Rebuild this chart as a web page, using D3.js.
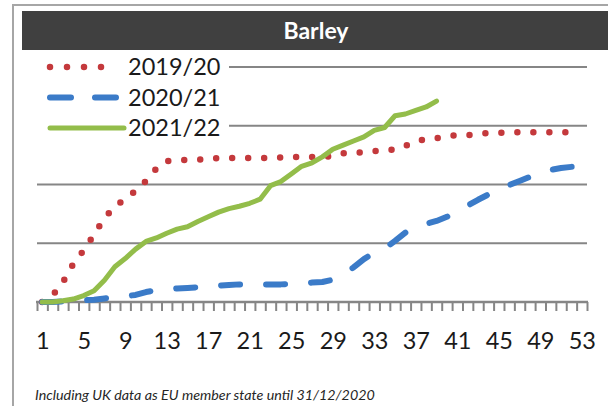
<!DOCTYPE html>
<html>
<head>
<meta charset="utf-8">
<script src="https://cdn.jsdelivr.net/npm/d3@7"></script>
<style>
    body { margin: 0; background: #fff; overflow: hidden; }
    svg { display: block; font-family: Lato, "Open Sans", sans-serif; }
</style>
</head>
<body>
<script>
'use strict';

// chart data
const weeks = d3.range(1, 54);
const tickLabels = [1, 5, 9, 13, 17, 21, 25, 29, 33, 37, 41, 45, 49, 53];
const seriesNames = ['2019/20', '2020/21', '2021/22'];
const gridValues = [0, 1, 2, 3, 4];

const values2019 = [0.00, 0.11, 0.34, 0.65, 0.88, 1.15, 1.43, 1.62, 1.76, 1.89,
    2.06, 2.27, 2.40, 2.41, 2.42, 2.42, 2.44, 2.45, 2.45, 2.45,
    2.45, 2.45, 2.45, 2.46, 2.47, 2.47, 2.47, 2.47, 2.48, 2.53,
    2.54, 2.55, 2.57, 2.58, 2.60, 2.66, 2.73, 2.78, 2.79, 2.82,
    2.84, 2.84, 2.86, 2.88, 2.88, 2.88, 2.89, 2.89, 2.89, 2.89,
    2.89, 2.89];
const values2020 = [0.00, 0.00, 0.01, 0.02, 0.03, 0.04, 0.06, 0.08, 0.10, 0.12,
    0.17, 0.20, 0.21, 0.23, 0.24, 0.25, 0.26, 0.28, 0.29, 0.30,
    0.30, 0.30, 0.30, 0.30, 0.31, 0.32, 0.33, 0.34, 0.38, 0.46,
    0.59, 0.73, 0.84, 0.91, 1.04, 1.18, 1.26, 1.33, 1.38, 1.45,
    1.54, 1.64, 1.74, 1.83, 1.93, 1.99, 2.06, 2.13, 2.19, 2.25,
    2.28, 2.30, 2.31];
const values2021 = [0.00, 0.00, 0.02, 0.05, 0.11, 0.19, 0.37, 0.60, 0.74, 0.90,
    1.03, 1.09, 1.17, 1.24, 1.28, 1.37, 1.45, 1.53, 1.59, 1.63,
    1.68, 1.75, 1.98, 2.05, 2.18, 2.31, 2.37, 2.47, 2.60, 2.67,
    2.74, 2.81, 2.92, 2.97, 3.17, 3.20, 3.26, 3.32, 3.42];

const colors = ['#c4393c', '#3b7bc8', '#93bd4a'];
const widths = [6.5, 6, 5];
const dashes = ['0 16', '19 26', null];

(function () {
    const W = 608, H = 406;
    const svg = d3.select('body').append('svg')
        .attr('width', W)
        .attr('height', H);

    // category axis, weeks sit between the tick marks
    const x = d3.scaleLinear().domain([0.5, 53.5]).range([37, 587]);
    const y = d3.scaleLinear().domain([0, 4]).range([302, 67]);

    // outer frame
    svg.append('rect')
        .attr('x', 13).attr('y', 5)
        .attr('width', W + 10).attr('height', H + 10)
        .attr('fill', '#fff')
        .attr('stroke', '#a6a6a6')
        .attr('stroke-width', 2);

    // title band
    svg.append('rect')
        .attr('x', 22).attr('y', 11)
        .attr('width', W - 22).attr('height', 39)
        .attr('fill', '#404040');
    svg.append('text')
        .attr('x', 316).attr('y', 39)
        .attr('text-anchor', 'middle')
        .attr('fill', '#fff')
        .attr('font-weight', 'bold')
        .attr('font-size', 23)
        .text('Barley');

    // gridlines
    svg.append('g')
        .selectAll('line')
        .data(gridValues.slice(1))
        .enter()
        .append('line')
        .attr('x1', x(0.5)).attr('x2', x(53.5))
        .attr('y1', d => y(d)).attr('y2', d => y(d))
        .attr('stroke', '#868686')
        .attr('stroke-width', 2);

    // legend background hides the gridlines behind it
    svg.append('rect')
        .attr('x', x(0.5)).attr('y', 52)
        .attr('width', 192).attr('height', 90)
        .attr('fill', '#fff');

    // x axis: small ticks between weeks, labels every 4 weeks
    const tickAxis = d3.axisBottom(x)
        .tickValues(d3.range(0.5, 54, 1))
        .tickSize(9)
        .tickFormat('');
    const gTicks = svg.append('g')
        .attr('transform', `translate(0,${y(0)})`)
        .call(tickAxis);
    gTicks.select('.domain').remove();
    gTicks.selectAll('line').attr('stroke', '#868686').attr('stroke-width', 2);

    svg.append('line')
        .attr('x1', x(0.5) - 1).attr('x2', x(53.5) + 1)
        .attr('y1', y(0)).attr('y2', y(0))
        .attr('stroke', '#868686')
        .attr('stroke-width', 2.5);

    const labelAxis = d3.axisBottom(x)
        .tickValues(tickLabels)
        .tickSize(0)
        .tickPadding(0)
        .tickFormat(d3.format('d'));
    const gLabels = svg.append('g')
        .attr('transform', `translate(0,${y(0) + 30})`)
        .call(labelAxis);
    gLabels.select('.domain').remove();
    gLabels.selectAll('text')
        .attr('font-family', 'Lato, sans-serif')
        .attr('font-size', 23.5)
        .attr('fill', '#1a1a1a');

    // series
    const series = [values2019, values2020, values2021];
    const line = d3.line()
        .x((d, i) => x(weeks[i]))
        .y(d => y(d));

    svg.append('g')
        .selectAll('path')
        .data(series)
        .enter()
        .append('path')
        .attr('d', d => line(d))
        .attr('fill', 'none')
        .attr('stroke', (d, i) => colors[i])
        .attr('stroke-width', (d, i) => widths[i])
        .attr('stroke-linecap', 'round')
        .attr('stroke-linejoin', 'round')
        .attr('stroke-dasharray', (d, i) => dashes[i]);

    // legend
    const legend = svg.append('g')
        .selectAll('g')
        .data(seriesNames)
        .enter()
        .append('g')
        .attr('transform', (d, i) => `translate(0,${67 + i * 30.5})`);
    legend.append('line')
        .attr('x1', 50).attr('x2', (d, i) => i === 2 ? 124 : 118)
        .attr('stroke', (d, i) => colors[i])
        .attr('stroke-width', (d, i) => widths[i])
        .attr('stroke-linecap', 'round')
        .attr('stroke-dasharray', (d, i) => i === 0 ? '0 17' : (i === 1 ? '21 24' : null));
    legend.append('text')
        .attr('x', 128)
        .attr('dy', '0.36em')
        .attr('font-size', 23.5)
        .attr('fill', '#1a1a1a')
        .text(d => d);

    // footnote
    svg.append('text')
        .attr('x', 35).attr('y', 400)
        .attr('font-style', 'italic')
        .attr('font-size', 14.3)
        .attr('fill', '#262626')
        .text('Including UK data as EU member state until 31/12/2020');
})();
</script>
</body>
</html>
